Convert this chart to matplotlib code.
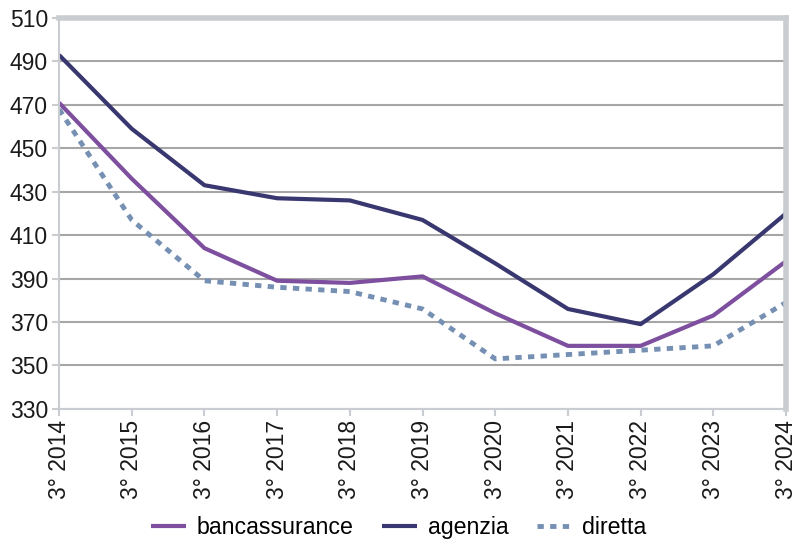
import matplotlib
matplotlib.use("Agg")
import matplotlib.pyplot as plt

categories = ["3° 2014", "3° 2015", "3° 2016", "3° 2017", "3° 2018", "3° 2019",
              "3° 2020", "3° 2021", "3° 2022", "3° 2023", "3° 2024"]
bancassurance = [471, 436, 404, 389, 388, 391, 374, 359, 359, 373, 398]
agenzia = [493, 459, 433, 427, 426, 417, 397, 376, 369, 392, 420]
diretta = [468, 417, 389, 386, 384, 376, 353, 355, 357, 359, 379]
yticks = [330, 350, 370, 390, 410, 430, 450, 470, 490, 510]

plt.rcParams['font.family'] = ['Liberation Sans', 'DejaVu Sans']

fig = plt.figure(figsize=(7.98, 5.48), dpi=100)
ax = fig.add_axes([0.074, 0.254, 0.911, 0.713])

x = list(range(len(categories)))
ax.plot(x, bancassurance, color="#7d4f9e", lw=3, label="bancassurance", solid_capstyle="butt")
ax.plot(x, agenzia, color="#39376f", lw=3, label="agenzia", solid_capstyle="butt")
ax.plot(x, diretta, color="#7590b3", lw=3.5, ls=(0, (1.3, 1.3)), label="diretta")

ax.set_xlim(0, len(categories) - 1)
ax.set_ylim(330, 510)
ax.set_yticks(yticks)
ax.set_xticks(x)
ax.set_xticklabels(categories, rotation=90)
ax.yaxis.grid(True, color="#a6a6a6", lw=1.5)
ax.set_axisbelow(True)

for s in ["left", "bottom"]:
    ax.spines[s].set_color("#c9cdd1")
    ax.spines[s].set_linewidth(1.5)
for s in ["top", "right"]:
    ax.spines[s].set_color("#c9cdd1")
    ax.spines[s].set_linewidth(4)

ax.tick_params(axis="both", labelsize=16.5, colors="#c9cdd1", labelcolor="#1a1a1a",
               length=5, width=1.5, pad=3)

fig.legend(loc="center", bbox_to_anchor=(0.5, 0.038), ncol=3, frameon=False,
           fontsize=16.7, handlelength=1.5, columnspacing=1.25, handletextpad=0.45)

fig.savefig("out.png", dpi=100)
